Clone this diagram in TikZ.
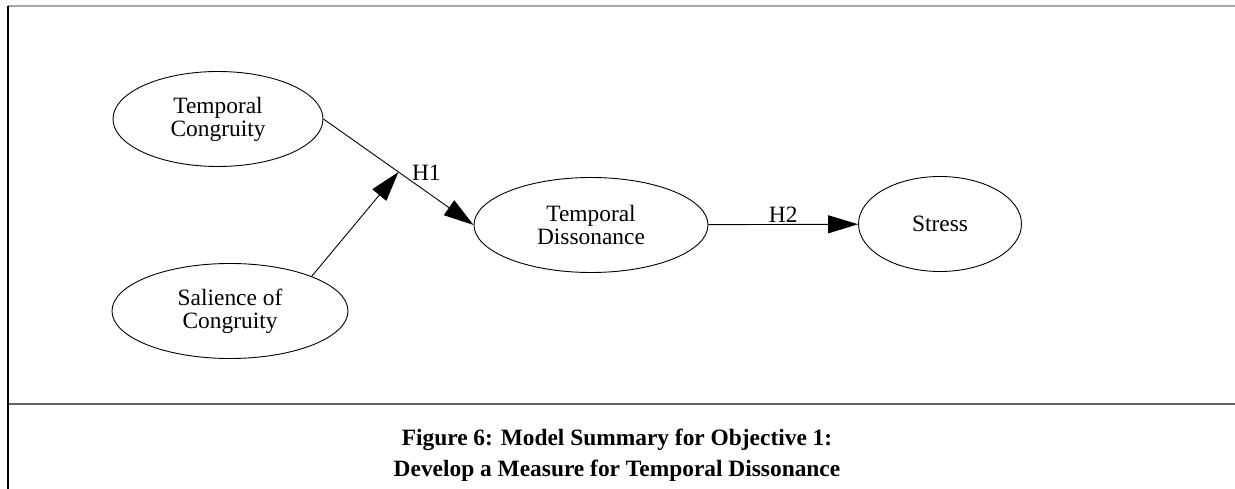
\documentclass[tikz,border=0pt]{standalone}
\usepackage{fontspec}
\setmainfont{Liberation Serif}
\usetikzlibrary{arrows.meta,shapes.geometric}
\begin{document}
\begin{tikzpicture}[x=1pt,y=-1pt,
  var/.style={draw,line width=0.9pt,ellipse,inner sep=0pt,align=center,minimum height=95pt,
    font=\fontsize{23.4}{23}\selectfont},
  path/.style={line width=0.9pt,-{Triangle[length=30pt,width=18pt]}},
  hyp/.style={font=\fontsize{23.4}{23}\selectfont}]
\useasboundingbox(0,0)rectangle(1235,489);
% frame
\draw[line width=1.5pt,black!35](8,6)--(1235,6);
\draw[line width=1.5pt,black!60](8,404)--(1235,404);
\draw[line width=1.5pt](8,6)--(8,489);
% constructs
\node[var,minimum width=210pt](tc)at(218,119){Temporal\\Congruity};
\node[var,minimum width=236pt](sc)at(230,311){Salience of\\Congruity};
\node[var,minimum width=234pt](td)at(591,225){Temporal\\Dissonance};
\node[var,minimum width=163pt](st)at(940,224){Stress};
% paths
\draw[path](tc.east)--coordinate[pos=0.5](h1)(td.west);
\draw[path](sc.23)--(h1);
\node[hyp,anchor=base west,xshift=10pt,yshift=-9pt]at(h1){H1};
\draw[path](td)--node[hyp,above,yshift=-2pt]{H2}(st);
\node[font=\bfseries\fontsize{23.4}{31}\selectfont,align=center]at(617,455)
  {Figure 6: Model Summary for Objective 1:\\Develop a Measure for Temporal Dissonance};
\end{tikzpicture}
\end{document}
